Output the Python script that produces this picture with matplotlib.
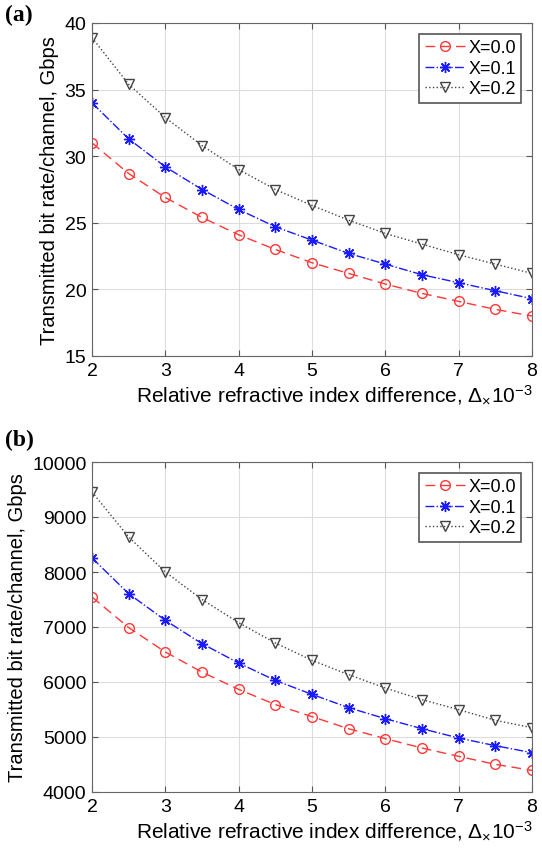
import numpy as np
import matplotlib
matplotlib.use("Agg")
import matplotlib.pyplot as plt

plt.rcParams['font.family'] = ['Liberation Sans', 'DejaVu Sans']
plt.rcParams['mathtext.fontset'] = 'custom'
plt.rcParams['mathtext.rm'] = 'Liberation Sans'
plt.rcParams['mathtext.it'] = 'Liberation Sans:italic'

# relative refractive index difference (x10^-3)
delta = [2, 2.5, 3, 3.5, 4, 4.5, 5, 5.5, 6, 6.5, 7, 7.5, 8]
labels = ['X=0.0', 'X=0.1', 'X=0.2']

# (a) bit rate per channel, Gbps
rate_a_x00 = [31.0, 28.7, 26.9, 25.4, 24.1, 23.0, 22.0, 21.2, 20.4, 19.7, 19.1, 18.5, 18.0]
rate_a_x01 = [34.0, 31.3, 29.2, 27.5, 26.0, 24.7, 23.7, 22.7, 21.9, 21.1, 20.5, 19.9, 19.3]
rate_a_x02 = [38.9, 35.4, 32.9, 30.8, 29.0, 27.5, 26.3, 25.2, 24.2, 23.4, 22.6, 21.9, 21.2]

# (b) bit rate per channel, Gbps
rate_b_x00 = [7545, 6990, 6545, 6180, 5866, 5590, 5370, 5150, 4970, 4800, 4648, 4503, 4393]
rate_b_x01 = [8255, 7606, 7121, 6697, 6345, 6029, 5775, 5533, 5333, 5151, 4982, 4842, 4715]
rate_b_x02 = [9455, 8636, 8000, 7500, 7078, 6709, 6394, 6133, 5890, 5679, 5497, 5303, 5170]

styles = [
    dict(color='#ff3838', ls=(0, (7, 4)), marker='o', mfc='none', mec='#ff3838', ms=7, lw=1.0),
    dict(color='#1a1aff', ls='-.', marker=(8, 2, 0), mfc='#1a1aff', mec='#1a1aff', ms=8,
         mew=1.0, lw=1.0),
    dict(color='#444444', ls=':', marker='v', mfc='none', mec='#444444', ms=7, lw=1.0),
]

fig = plt.figure(figsize=(5.42, 8.54), dpi=100)
ax_a = fig.add_axes([92/542, 1-357/854, 440/542, 333/854])
ax_b = fig.add_axes([92/542, 1-793/854, 440/542, 330/854])

panels = [
    (ax_a, [rate_a_x00, rate_a_x01, rate_a_x02], (15, 40), [15, 20, 25, 30, 35, 40], '(a)', 15),
    (ax_b, [rate_b_x00, rate_b_x01, rate_b_x02], (4000, 10000),
     [4000, 5000, 6000, 7000, 8000, 9000, 10000], '(b)', 440),
]

for ax, series, ylim, yticks, tag, tag_y in panels:
    for vals, st, lab in zip(series, styles, labels):
        ax.plot(delta, vals, label=lab, **st)
    ax.set_xlim(2, 8)
    ax.set_ylim(*ylim)
    ax.set_yticks(yticks)
    ax.set_xticks(range(2, 9))
    ax.grid(True, color='#dddddd', lw=0.8)
    ax.set_axisbelow(True)
    ax.tick_params(direction='in', top=True, right=True, labelsize=14, length=4,
                   color='#555555', pad=4)
    for sp in ax.spines.values():
        sp.set_color('#666666')
    ax.set_ylabel('Transmitted bit rate/channel, Gbps', fontsize=14.5, labelpad=4)
    ax.set_xlabel(r'Relative refractive index difference, $\Delta_{\times}10^{-3}$',
                  fontsize=15, loc='right', labelpad=3)
    leg = ax.legend(loc='upper right', fontsize=13, fancybox=False, framealpha=1,
                    edgecolor='#555555', handlelength=2.2, borderpad=0.3,
                    labelspacing=0.2, handletextpad=0.2, borderaxespad=0.6)
    leg.get_frame().set_linewidth(1.2)
    fig.text(5/542, 1-tag_y/854, tag, fontsize=17, fontweight='bold',
             family='Liberation Serif', va='center', ha='left')

fig.savefig('out.png', dpi=100)
